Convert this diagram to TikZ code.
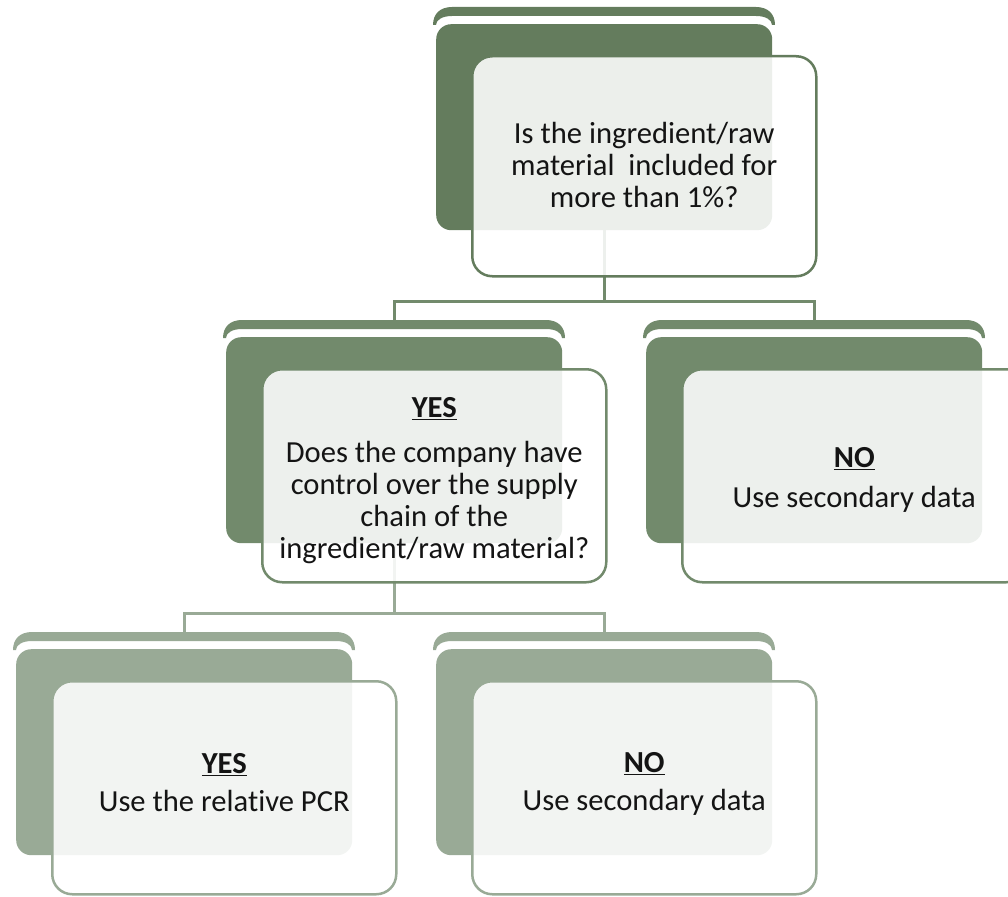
\documentclass[tikz,border=0pt]{standalone}
\usepackage{fontspec}
\setmainfont{Carlito}[Ligatures={NoCommon}]
\usetikzlibrary{calc}
\pgfdeclarelayer{bg}
\pgfsetlayers{bg,main}
\definecolor{gA}{RGB}{100,124,93}
\definecolor{gB}{RGB}{114,138,108}
\definecolor{gC}{RGB}{153,170,150}
\definecolor{txt}{RGB}{20,20,20}
\tikzset{
  darkbox/.style={draw=none, fill=#1, rounded corners=15pt, minimum width=336pt,
    minimum height=206pt, inner sep=0pt, anchor=north west},
  lightbox/.style={draw=#1, line width=2.5pt, fill=white, fill opacity=0.88,
    rounded corners=20pt, minimum width=344pt, inner sep=0pt, anchor=north west},
  boxtext/.style={align=center, inner sep=0pt, font=\fontsize{30.6}{32}\selectfont, text=txt},
  conn/.style={draw=#1, line width=3pt},
}
\newcommand\tierunit[7]{%
  \node[darkbox=#2] (#1d) at (#3,#4) {};
  \begin{scope}[shift={(#1d.north west)}]
    \fill[#2] (-3,1) .. controls (-3,-10) and (4,-17) .. (16,-17) -- (320,-17)
      .. controls (332,-17) and (339,-10) .. (339,1) -- (336,1)
      .. controls (336,-4) and (330,-8) .. (320,-8) -- (16,-8)
      .. controls (6,-8) and (0,-4) .. (0,1) -- cycle;
    \coordinate (#1s) at (168,-17);
  \end{scope}
  \node[lightbox=#2, minimum height=#5pt] (#1w) at ($(#1d.north west)+(35,31)$) {};
  \node[boxtext] (#1x) at ($(#1w.center)+(0,#6)$) {#7};
}
\begin{document}
\begin{tikzpicture}[x=1pt,y=-1pt]
\useasboundingbox (0,0) rectangle (1008,896);
\clip (0,0) rectangle (1008,896);

\tierunit{t}{gA}{436}{24}{220}{-1}{Is the ingredient/raw\\material\ \ included for\\more than 1\%?}
\tierunit{m}{gB}{226}{337}{213}{5}{\underline{\textbf{YES}}\\[13pt]Does the company have\\control over the supply\\chain of the\\ingredient/raw material?}
\tierunit{n}{gB}{646}{337}{213}{4}{\underline{\textbf{NO}}\\[8pt]Use secondary data}
\tierunit{a}{gC}{16}{649}{213}{-5}{\underline{\textbf{YES}}\\[6pt]Use the relative PCR}
\tierunit{b}{gC}{436}{649}{213}{-4}{\underline{\textbf{NO}}\\[6pt]Use secondary data}

\begin{pgfonlayer}{bg}
  \draw[conn=gB] (td.south) -- ++(0,71) -| (ms);
  \draw[conn=gB] (td.south) -- ++(0,71) -| (ns);
  \draw[conn=gC] (md.south) -- ++(0,70) -| (as);
  \draw[conn=gC] (md.south) -- ++(0,70) -| (bs);
\end{pgfonlayer}
\end{tikzpicture}
\end{document}
